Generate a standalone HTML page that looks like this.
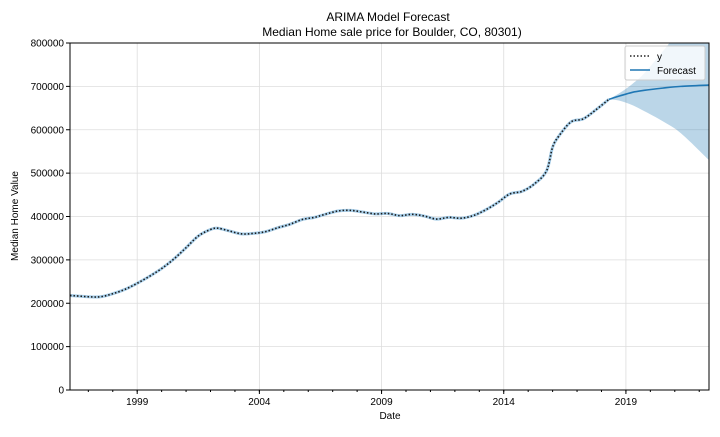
<!DOCTYPE html>
<html><head><meta charset="utf-8"><style>
body{margin:0;background:#fff;font-family:"Liberation Sans","DejaVu Sans",sans-serif;}
svg text{font-family:"Liberation Sans","DejaVu Sans",sans-serif;fill:#000;}
</style></head><body>
<svg id="chart" width="720" height="432" xmlns="http://www.w3.org/2000/svg">
<text x="388" y="21" font-size="12" text-anchor="middle">ARIMA Model Forecast</text>
<text x="392" y="36" font-size="12" text-anchor="middle">Median Home sale price for Boulder, CO, 80301)</text>
<g id="grid"></g>
<g id="marks"></g>
<g id="axes"></g>
<text transform="translate(18,216) rotate(-90)" font-size="10" text-anchor="middle">Median Home Value</text>
<text x="390" y="419" font-size="10" text-anchor="middle">Date</text>
<g>
<rect x="625" y="46" width="80" height="34" fill="#fff" fill-opacity="0.8" stroke="#ccc" rx="2"/>
<line x1="630" y1="56" x2="650" y2="56" stroke="#222" stroke-width="1.5" stroke-dasharray="1.5,2"/>
<text x="657" y="60" font-size="10">y</text>
<line x1="630" y1="70" x2="650" y2="70" stroke="#1f77b4" stroke-width="1.5"/>
<text x="657" y="74" font-size="10">Forecast</text>
</g>
</svg>
<script>
const obsYears=[1996.25,1997,1997.5,1998,1998.5,1999,1999.5,2000,2000.5,2001,2001.5,2002,2002.3,2002.75,2003.25,2003.75,2004.25,2004.75,2005.25,2005.75,2006.25,2006.75,2007.25,2007.75,2008.25,2008.75,2009.25,2009.75,2010.25,2010.75,2011.25,2011.75,2012.25,2012.75,2013.25,2013.75,2014.25,2014.75,2015.25,2015.75,2016,2016.25,2016.75,2017.25,2017.75,2018.3];
const obsValues=[218000,215000,215000,222000,232000,246000,262000,280000,302000,328000,355000,370000,373000,367000,360000,361000,365000,374000,382000,393000,398000,406000,413000,414000,410000,406000,407000,402000,405000,401000,394000,398000,396000,402000,415000,432000,452000,458000,475000,505000,560000,585000,618000,625000,645000,670000];
const fcYears=[2018.3,2018.75,2019.25,2019.75,2020.5,2021.25,2022.4];
const fcValues=[670000,678000,686000,691000,696000,700000,703000];
const fcUpper=[670000,685000,705000,730000,780000,830000,880000];
const fcLower=[670000,667000,657000,643000,620000,592000,530000];
const yTicks=[0,100000,200000,300000,400000,500000,600000,700000,800000];
const xTicks=[1999,2004,2009,2014,2019];

const L=70,R=709,T=43,B=390,x0=1996.25,x1=2022.4;
const X=v=>L+(v-x0)/(x1-x0)*(R-L);
const Y=v=>B-v/800000*(B-T);
const NS="http://www.w3.org/2000/svg";
function mk(tag,attrs,parent){const e=document.createElementNS(NS,tag);for(const k in attrs)e.setAttribute(k,attrs[k]);parent.appendChild(e);return e;}
function smooth(xs,ys){let s='M'+X(xs[0])+','+Y(ys[0]);for(let i=0;i<xs.length-1;i++){const p0=[X(xs[Math.max(i-1,0)]),Y(ys[Math.max(i-1,0)])],p1=[X(xs[i]),Y(ys[i])],p2=[X(xs[i+1]),Y(ys[i+1])],p3=[X(xs[Math.min(i+2,xs.length-1)]),Y(ys[Math.min(i+2,xs.length-1)])];s+=' C'+(p1[0]+(p2[0]-p0[0])/6)+','+(p1[1]+(p2[1]-p0[1])/6)+' '+(p2[0]-(p3[0]-p1[0])/6)+','+(p2[1]-(p3[1]-p1[1])/6)+' '+p2[0]+','+p2[1];}return s;}
const grid=document.getElementById('grid'),marks=document.getElementById('marks'),axes=document.getElementById('axes');
yTicks.forEach(v=>{
  const g=mk('line',{x1:L,x2:R,y1:Y(v),y2:Y(v),stroke:'#ddd','stroke-width':0.8},grid);
  
  
  mk('line',{x1:L-4,x2:L,y1:Y(v),y2:Y(v),stroke:'#000'},axes);
  const t=mk('text',{x:L-6,y:Y(v)+3.5,'font-size':10,'text-anchor':'end'},axes);
  t.textContent=v;
  
  
});
xTicks.forEach(v=>{
  const g=mk('line',{x1:X(v),x2:X(v),y1:T,y2:B,stroke:'#ddd','stroke-width':0.8},grid);
  
  
  mk('line',{x1:X(v),x2:X(v),y1:B,y2:B+4,stroke:'#000'},axes);
  const t=mk('text',{x:X(v),y:B+15,'font-size':10,'text-anchor':'middle'},axes);
  t.textContent=v;
  
  
});
for(let yr=1997;yr<=2022;yr++){mk('line',{x1:X(yr),x2:X(yr),y1:B,y2:B+2,stroke:'#000'},axes);}
const cp=mk('clipPath',{id:'clip'},marks);mk('rect',{x:L,y:T,width:R-L,height:B-T},cp);
const up=smooth(fcYears,fcUpper);
const lo=smooth(fcYears.slice().reverse(),fcLower.slice().reverse());
const d=up+' L'+lo.slice(1)+'Z';
const band=mk('path',{d:d,fill:'#1f77b4','fill-opacity':0.3,'clip-path':'url(#clip)'},marks);


const od=smooth(obsYears,obsValues);
const halo=mk('path',{d:od,fill:'none',stroke:'#a6cde8','stroke-width':3},marks);


const obs=mk('path',{d:od,fill:'none',stroke:'#1a1a1a','stroke-width':1.6,'stroke-dasharray':'1.5,2'},marks);


const fc=mk('path',{d:smooth(fcYears,fcValues),fill:'none',stroke:'#1f77b4','stroke-width':1.6,'clip-path':'url(#clip)'},marks);


mk('rect',{x:L,y:T,width:R-L,height:B-T,fill:'none',stroke:'#000','stroke-width':1},axes);
</script>
</body></html>
